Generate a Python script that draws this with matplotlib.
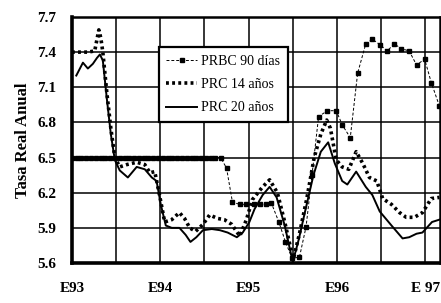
import matplotlib
matplotlib.use("Agg")
import matplotlib.pyplot as plt

# months since Jan-1993 (E93 = 0)
prbc_m = [0.0, 0.65, 1.3, 1.95, 2.6, 3.25, 3.9, 4.55, 5.2, 5.85, 6.5, 7.15, 7.8, 8.45,
          9.1, 9.75, 10.4, 11.05, 11.7, 12.35, 13.0, 13.65, 14.3, 14.95, 15.6, 16.25,
          16.9, 17.55, 18.2, 18.85, 19.5, 20.2,
          21.0, 21.8, 22.8, 23.7, 24.7, 25.5, 26.3, 27.1, 28.1, 29.0, 29.9, 30.9, 31.8,
          32.6, 33.5, 34.7, 35.9, 36.7, 37.8, 38.8, 39.9, 40.8, 41.9, 42.8, 43.8, 44.7,
          45.8, 46.8, 47.9, 48.8, 49.9]
prbc_v = [6.5] * 32 + [
          6.41, 6.12, 6.10, 6.10, 6.10, 6.10, 6.10, 6.11, 5.95, 5.78, 5.64, 5.65, 5.91,
          6.35, 6.85, 6.90, 6.90, 6.78, 6.67, 7.22, 7.47, 7.51, 7.46, 7.41, 7.47, 7.43,
          7.41, 7.29, 7.34, 7.14, 6.94]

prc14_m = [0.0, 1.08, 2.17, 3.1, 3.66, 3.93, 4.2, 4.75, 5.29, 5.83, 6.5, 7.46, 8.8, 9.9,
           10.6, 11.25, 11.9, 12.6, 13.56, 14.6, 15.3, 16.0, 16.8, 17.8, 18.7, 19.8, 20.7,
           21.7, 22.8, 23.7, 24.5, 25.9, 26.85, 27.9, 28.9, 29.8, 30.1, 30.9, 31.9, 32.9,
           33.8, 34.6, 35.1, 35.9, 36.7, 37.6, 38.6, 39.5, 40.4, 41.4, 42.2, 43.4, 44.5,
           45.4, 46.5, 47.6, 48.8, 49.9]
prc14_v = [7.40, 7.40, 7.40, 7.41, 7.59, 7.52, 7.40, 7.05, 6.75, 6.50, 6.42, 6.44, 6.46,
           6.44, 6.37, 6.38, 6.18, 5.95, 5.97, 6.03, 5.98, 5.90, 5.87, 5.93, 6.01, 5.98,
           5.97, 5.93, 5.83, 5.97, 6.14, 6.25, 6.31, 6.20, 5.95, 5.70, 5.64, 5.85, 6.15,
           6.50, 6.70, 6.82, 6.75, 6.48, 6.42, 6.40, 6.55, 6.45, 6.33, 6.30, 6.15, 6.10,
           6.03, 5.99, 5.99, 6.03, 6.15, 6.16]

prc20_m = [0.6, 1.5, 2.17, 2.85, 3.4, 3.8, 4.2, 4.75, 5.29, 5.83, 6.5, 7.6, 8.8, 9.9,
           10.85, 11.5, 12.07, 12.75, 13.56, 14.6, 15.45, 16.1, 16.9, 17.8, 19.0, 20.1,
           21.15, 22.4, 23.2, 24.1, 24.8, 25.9, 26.85, 27.8, 28.9, 29.6, 30.0, 30.8, 31.7,
           32.8, 33.8, 34.8, 35.7, 36.7, 37.4, 38.6, 39.9, 40.8, 41.8, 43.4, 44.9, 45.8,
           46.8, 47.6, 48.9, 49.9]
prc20_v = [7.20, 7.31, 7.26, 7.30, 7.35, 7.38, 7.33, 7.00, 6.70, 6.48, 6.39, 6.33, 6.42,
           6.40, 6.33, 6.30, 6.10, 5.92, 5.90, 5.90, 5.84, 5.78, 5.82, 5.88, 5.89, 5.88,
           5.86, 5.82, 5.86, 5.95, 6.06, 6.18, 6.25, 6.16, 5.92, 5.72, 5.61, 5.80, 6.05,
           6.35, 6.55, 6.63, 6.45, 6.30, 6.27, 6.38, 6.25, 6.18, 6.04, 5.92, 5.81, 5.82,
           5.85, 5.86, 5.95, 5.97]

xtick_pos = [0, 12, 24, 36, 48]
xtick_lab = ["E93", "E94", "E95", "E96", "E 97"]
ytick_pos = [5.6, 5.9, 6.2, 6.5, 6.8, 7.1, 7.4, 7.7]
ytick_lab = ["5.6", "5.9", "6.2", "6.5", "6.8", "7.1", "7.4", "7.7"]

serif = ["Liberation Serif", "DejaVu Serif"]

fig = plt.figure(figsize=(4.41, 3.03), dpi=100)
ax = fig.add_axes([0.163, 0.132, 0.835, 0.812])

ax.plot(prbc_m, prbc_v, color="black", lw=0.7, ls=(0, (3, 2)), marker="s",
        markersize=2.7, label="PRBC 90 días", zorder=4)
ax.plot(prc14_m, prc14_v, color="black", lw=2.6, ls=(0, (0.8, 0.9)),
        label="PRC 14 años", zorder=3)
ax.plot(prc20_m, prc20_v, color="black", lw=1.4, ls="-",
        label="PRC 20 años", zorder=3)

ax.set_xlim(0, 50)
ax.set_ylim(5.6, 7.7)
ax.set_xticks(xtick_pos)
ax.set_xticks([6, 18, 30, 42], minor=True)
ax.set_xticklabels(xtick_lab, fontfamily=serif, fontweight="bold", fontsize=11)
ax.set_yticks(ytick_pos)
ax.set_yticklabels(ytick_lab, fontfamily=serif, fontweight="bold", fontsize=11)
ax.tick_params(axis="both", which="both", length=0)
ax.tick_params(axis="x", pad=14)
ax.tick_params(axis="y", pad=11)
ax.grid(True, which="both", color="black", lw=1.1)
ax.set_axisbelow(True)

for s in ["left", "bottom"]:
    ax.spines[s].set_linewidth(2.6)
for s in ["top", "right"]:
    ax.spines[s].set_linewidth(1.8)

ax.set_ylabel("Tasa Real Anual", fontfamily=serif, fontweight="bold", fontsize=12,
              labelpad=5)

leg = ax.legend(loc="upper left", bbox_to_anchor=(0.236, 0.878), borderaxespad=0,
                frameon=True, fancybox=False, framealpha=1, edgecolor="black",
                prop={"family": serif, "size": 10}, handlelength=2.2,
                handletextpad=0.3, labelspacing=0.75, borderpad=0.55)
leg.get_frame().set_linewidth(1.6)
leg.set_zorder(5)

fig.savefig("out.png", dpi=100)
